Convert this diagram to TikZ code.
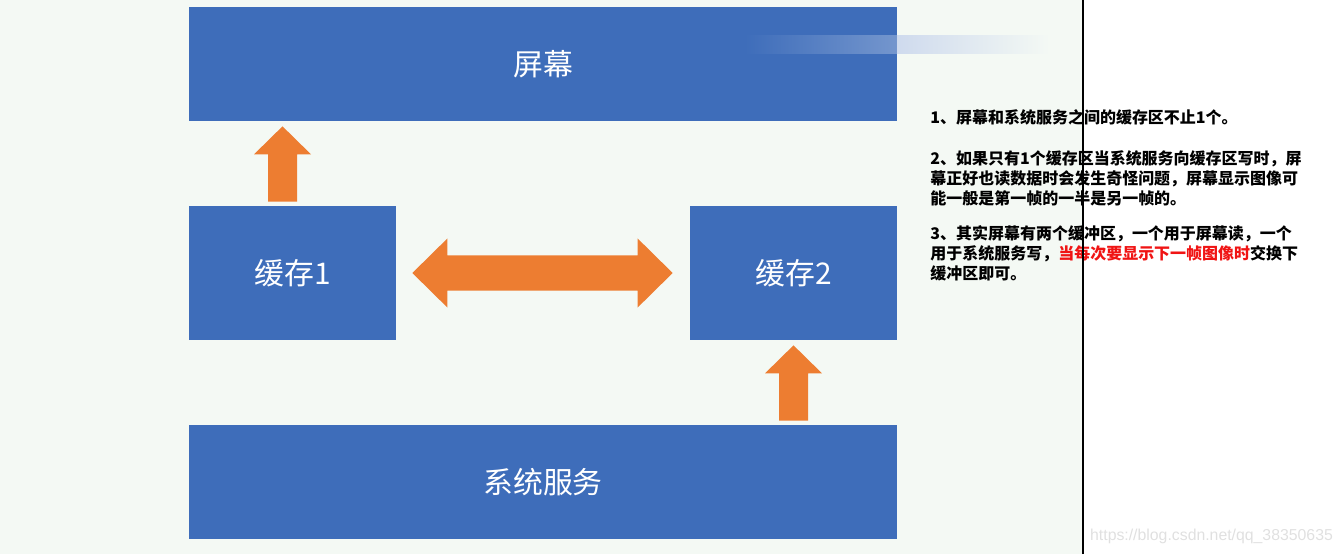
\documentclass[tikz,border=0pt]{standalone}
\usepackage{fontspec}
\newfontfamily\cjk{Noto Sans CJK SC}
\setsansfont{Liberation Sans}
\usetikzlibrary{positioning,calc}
\definecolor{boxblue}{RGB}{62,109,186}
\definecolor{arroworange}{RGB}{237,125,49}
\definecolor{pagebg}{RGB}{244,249,244}
\definecolor{notered}{RGB}{240,20,20}

% flecha gruesa hacia arriba, de #1 a #2
\newcommand{\fatup}[2]{%
  \fill[fatarrow] let \p1=(#1), \p2=(#2) in
    (\x1-0.29cm,\y1) -- (\x1+0.29cm,\y1) -- (\x1+0.29cm,\y2-0.56cm)
    -- (\x1+0.57cm,\y2-0.56cm) -- (\x1,\y2) -- (\x1-0.57cm,\y2-0.56cm)
    -- (\x1-0.29cm,\y2-0.56cm) -- cycle;}

\begin{document}
\begin{tikzpicture}[
    blockbox/.style={fill=boxblue, text=white, inner sep=0pt,
      font=\cjk\fontsize{17}{20}\selectfont},
    fatarrow/.style={fill=arroworange},
    notetext/.style={anchor=north west, align=left, inner sep=0pt,
      font=\cjk\bfseries\fontsize{9.1}{11.3}\selectfont}
  ]
  \useasboundingbox (0,0) rectangle (26.88,11.08);

  % Fondo
  \fill[pagebg] (0,0) rectangle (21.66,11.08);

  % Bloques
  \node[blockbox, minimum width=14.16cm, minimum height=2.28cm] (screen) at (10.86,9.8) {屏幕};
  \node[blockbox, minimum width=4.14cm, minimum height=2.68cm] (cacheA) at (5.85,5.62) {缓存1};
  \node[blockbox, minimum width=4.14cm, minimum height=2.68cm] (cacheB) at (15.87,5.62) {缓存2};
  \node[blockbox, minimum width=14.16cm, minimum height=2.28cm] (service) at (10.86,1.44) {系统服务};

  % Franja degradada
  \shade[left color=boxblue, right color=boxblue!72!white] (14.9,10.0) rectangle (17.94,10.36);
  \shade[left color=boxblue!25!white, right color=pagebg] (17.94,10.0) rectangle (21.0,10.36);

  % Flechas hacia arriba
  \coordinate (upAfrom) at ($(cacheA.north)+(-0.2,0.08)$);
  \coordinate (upAto) at ($(screen.south -| upAfrom)+(0,-0.1)$);
  \fatup{upAfrom}{upAto}
  \coordinate (upBfrom) at ($(service.north -| cacheB.south)+(0,0.08)$);
  \coordinate (upBto) at ($(cacheB.south)+(0,-0.1)$);
  \fatup{upBfrom}{upBto}

  % Flecha doble (intercambio)
  \coordinate (swapL) at ($(cacheA.east)+(0.32,0)$);
  \coordinate (swapR) at ($(cacheB.west)+(-0.34,0)$);
  \fill[fatarrow] let \p1=(swapL), \p2=(swapR) in
    (\x1,\y1) -- (\x1+0.7cm,\y1+0.69cm) -- (\x1+0.7cm,\y1+0.35cm)
    -- (\x2-0.7cm,\y1+0.35cm) -- (\x2-0.7cm,\y1+0.69cm) -- (\x2,\y1)
    -- (\x2-0.7cm,\y1-0.69cm) -- (\x2-0.7cm,\y1-0.35cm)
    -- (\x1+0.7cm,\y1-0.35cm) -- (\x1+0.7cm,\y1-0.69cm) -- cycle;

  % Notas
  \node[notetext] (note1) at (18.6,8.9) {1、屏幕和系统服务之间的缓存区不止1个。};
  \node[notetext, below=0.5cm of note1.south west, anchor=north west] (note2)
    {2、如果只有1个缓存区当系统服务向缓存区写时，屏\\
     幕正好也读数据时会发生奇怪问题，屏幕显示图像可\\
     能一般是第一帧的一半是另一帧的。};
  \node[notetext, below=0.38cm of note2.south west, anchor=north west] (note3)
    {3、其实屏幕有两个缓冲区，一个用于屏幕读，一个\\
     用于系统服务写，\textcolor{notered}{当每次要显示下一帧图像时}交换下\\
     缓冲区即可。};

  % Línea divisoria
  \draw[black, line width=0.6pt] (21.66,0) -- (21.66,11.08);

  % Marca de agua
  \node[font=\sffamily\fontsize{9}{10}\selectfont, text=black!12] (mark) at (24.23,0.36) {https://blog.csdn.net/qq\_38350635};
\end{tikzpicture}
\end{document}
